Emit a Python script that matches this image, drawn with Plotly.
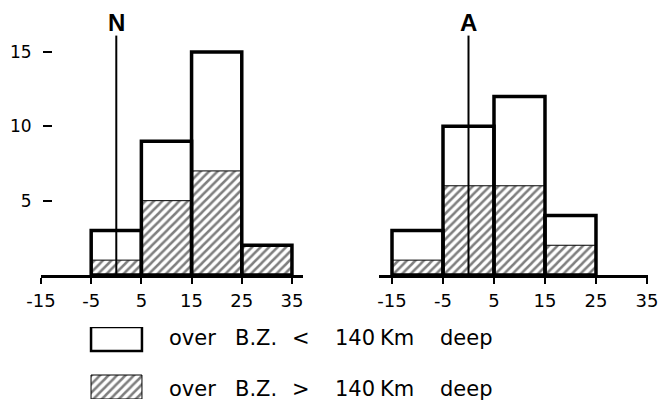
import plotly.graph_objects as go

W, H = 665, 402

# ---- data ----
tick_vals = [-15, -5, 5, 15, 25, 35]
tick_text = ["-15", "-5", "5", "15", "25", "35"]
y_tick_vals = [5, 10, 15]
y_tick_text = ["5", "10", "15"]

N_bins = [0, 10, 20, 30]          # bin centres (bins of width 10)
N_deep = [1, 5, 7, 2]             # > 140 km (hatched)
N_shallow = [2, 4, 8, 0]          # < 140 km (white)

A_bins = [-10, 0, 10, 20]
A_deep = [1, 6, 6, 2]
A_shallow = [2, 4, 6, 2]

bin_width = 10
ref_line_x = [0, 0]
ref_line_y = [0, 16.1]

legend_words = [["over", "B.Z.", "<", "140", "Km", "deep"],
                ["over", "B.Z.", ">", "140", "Km", "deep"]]
word_x = [167, 233, 290, 333, 378, 438]   # left edge of each word (px)
legend_y = [338, 389]

FONT = "DejaVu Sans"
PAT = dict(shape="/", fgcolor="black", bgcolor="white", size=6, solidity=0.42)

fig = go.Figure()

def add_panel(bins, deep, shallow, xa, ya):
    total = [d + s for d, s in zip(deep, shallow)]
    fig.add_trace(go.Bar(
        x=bins, y=deep, width=bin_width, xaxis=xa, yaxis=ya,
        marker=dict(color="white", line=dict(color="black", width=1), pattern=PAT),
        showlegend=False, hoverinfo="skip"))
    fig.add_trace(go.Bar(
        x=bins, y=total, width=bin_width, xaxis=xa, yaxis=ya,
        marker=dict(color="rgba(0,0,0,0)", line=dict(color="black", width=3.5)),
        showlegend=False, hoverinfo="skip"))
    fig.add_trace(go.Scatter(
        x=ref_line_x, y=ref_line_y, xaxis=xa, yaxis=ya, mode="lines",
        line=dict(color="black", width=2), showlegend=False, hoverinfo="skip"))

add_panel(N_bins, N_deep, N_shallow, "x", "y")
add_panel(A_bins, A_deep, A_shallow, "x2", "y2")

# legend boxes drawn as bars on a small hidden subplot
fig.add_trace(go.Bar(
    y=[0], x=[1], base=0, orientation="h", width=0.5, xaxis="x3", yaxis="y3",
    marker=dict(color="white", line=dict(color="black", width=2.5)),
    showlegend=False, hoverinfo="skip"))
fig.add_trace(go.Bar(
    y=[1], x=[1], base=0, orientation="h", width=0.5, xaxis="x3", yaxis="y3",
    marker=dict(color="white", line=dict(color="black", width=1), pattern=PAT),
    showlegend=False, hoverinfo="skip"))

y_top = 275 / 14.87
y_dom = [(H - 275) / H, 1]

xcommon = dict(showline=True, linewidth=3, linecolor="black", ticks="outside",
               ticklen=6, tickwidth=2, tickcolor="black", showgrid=False,
               zeroline=False, tickvals=tick_vals, ticktext=tick_text,
               automargin=False, ticklabelstandoff=1,
               tickfont=dict(family=FONT, size=18, color="black"))

fig.update_layout(
    width=W, height=H, margin=dict(l=0, r=0, t=0, b=0, pad=0),
    paper_bgcolor="white", plot_bgcolor="white", barmode="overlay",
    xaxis=dict(domain=[41 / W, 303 / W], range=[-15, 37.2], anchor="y", **xcommon),
    xaxis2=dict(domain=[379 / W, 648 / W], range=[-17.55, 35.2], anchor="y2", **xcommon),
    yaxis=dict(domain=y_dom, range=[0, y_top], anchor="free", position=52 / W,
               showline=False, showgrid=False, zeroline=False, automargin=False,
               ticks="outside", ticklen=9, tickwidth=1.5, tickcolor="black",
               tickvals=y_tick_vals, ticktext=y_tick_text, ticklabelstandoff=8,
               tickfont=dict(family=FONT, size=17, color="black")),
    yaxis2=dict(domain=y_dom, range=[0, y_top], anchor="x2", visible=False, automargin=False),
    xaxis3=dict(domain=[89 / W, 144 / W], range=[-0.04, 1.04], anchor="y3",
                visible=False, automargin=False),
    yaxis3=dict(domain=[3 / H, 75 / H], range=[1.25, -0.25], anchor="x3",
                visible=False, automargin=False),
)

fig.add_annotation(x=0, y=17.0, xref="x", yref="y", text="<b>N</b>", showarrow=False,
                   font=dict(family="Liberation Sans", size=24, color="black"))
fig.add_annotation(x=0, y=17.0, xref="x2", yref="y2", text="<b>A</b>", showarrow=False,
                   font=dict(family="Liberation Sans", size=24, color="black"))

for row, words in enumerate(legend_words):
    for w, xp in zip(words, word_x):
        fig.add_annotation(x=xp / W, y=(H - legend_y[row]) / H, xref="paper", yref="paper",
                           xanchor="left", yanchor="middle", text=w, showarrow=False,
                           font=dict(family=FONT, size=21, color="black"))

fig.write_html("out.html", config={"displayModeBar": False},
               post_script="document.body.style.margin='0px';")
